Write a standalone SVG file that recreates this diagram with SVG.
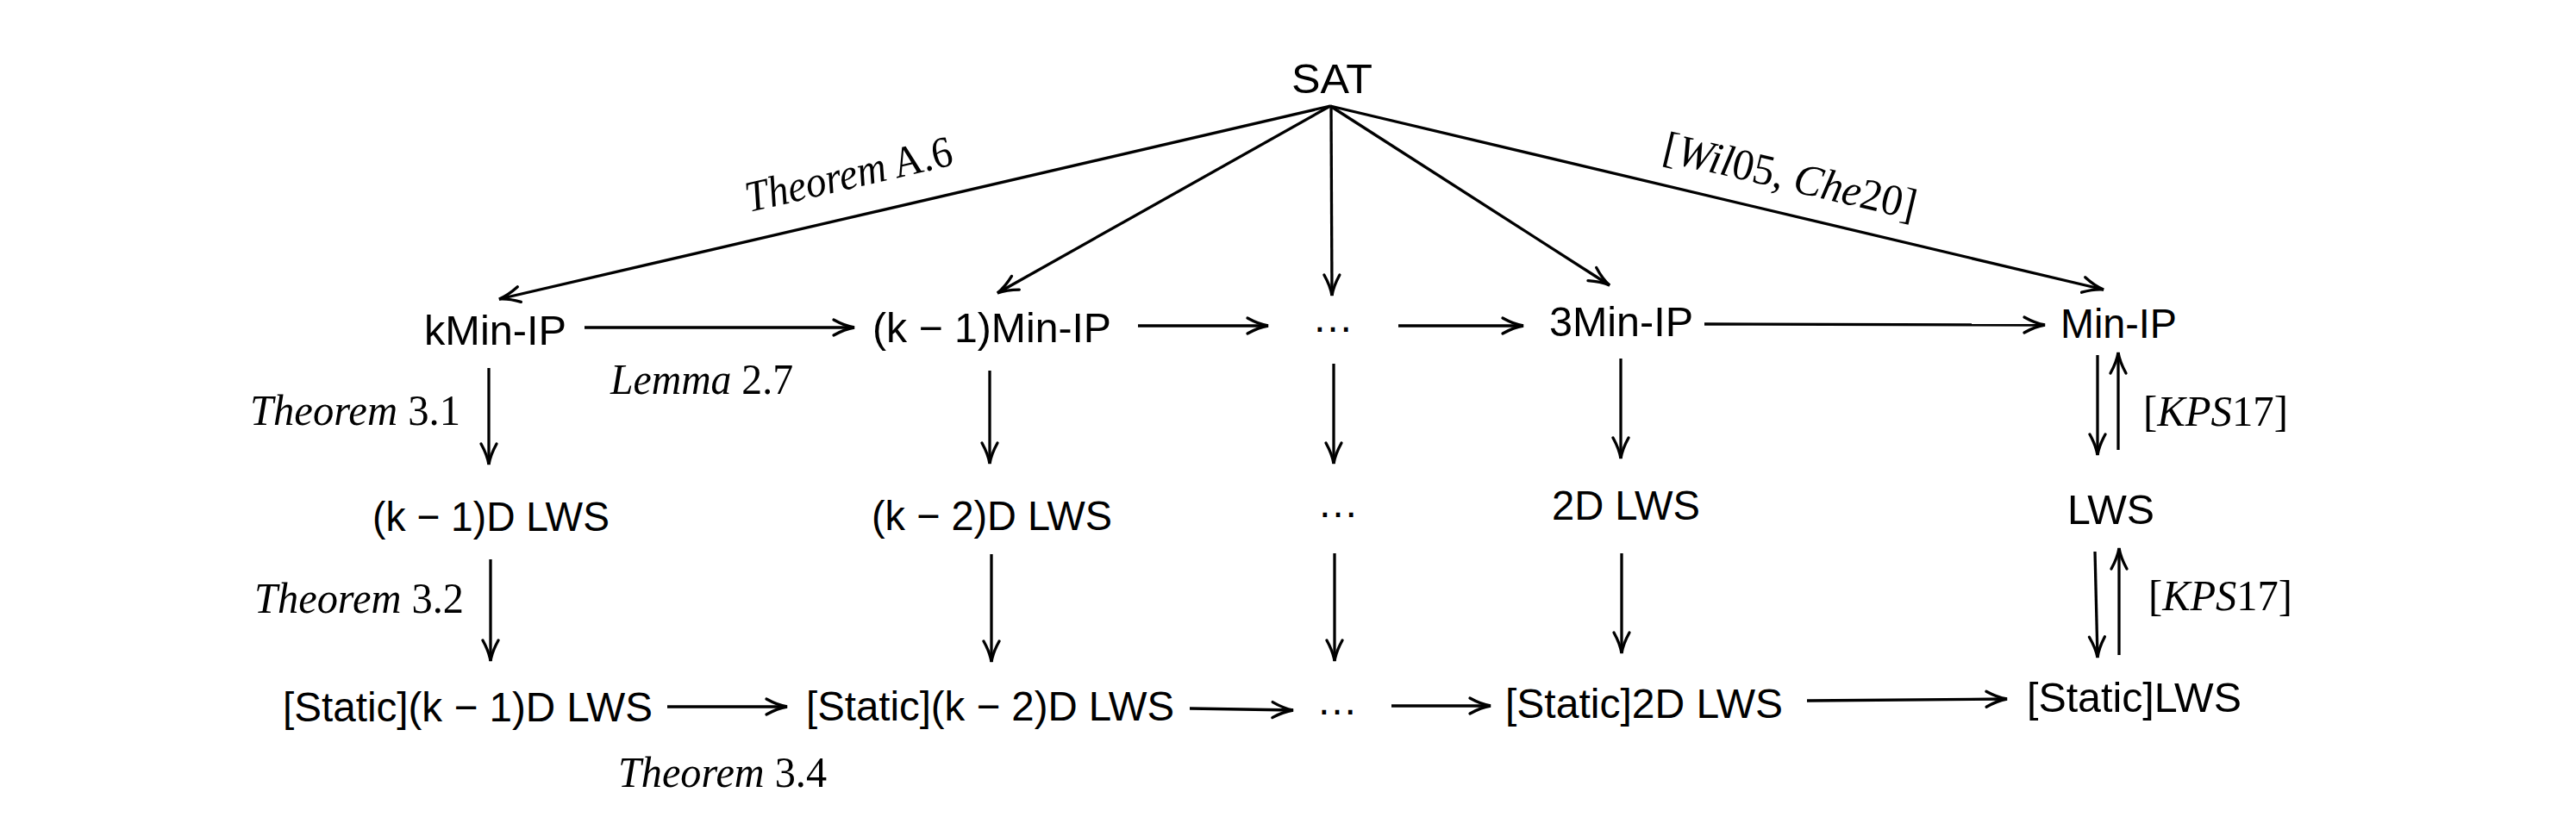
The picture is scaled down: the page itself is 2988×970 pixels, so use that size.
<svg xmlns="http://www.w3.org/2000/svg" width="2988" height="970" viewBox="0 0 2988 970">
<style>
.n{font-family:"Liberation Sans",Arial,sans-serif;font-size:48px;fill:#000}
.l{font-family:"Liberation Serif","Times New Roman",serif;font-size:51px;fill:#000}
.it{font-style:italic}
.e{stroke:#000;stroke-width:3.3;fill:none;marker-end:url(#ah)}
</style>
<defs>
<marker id="ah" markerUnits="userSpaceOnUse" markerWidth="40" markerHeight="30" viewBox="-30 -15 34 30" refX="0" refY="0" orient="auto" overflow="visible">
<path d="M-24,-9 C-15,-4 -6,-1 0,0 C-6,1 -15,4 -24,9" fill="none" stroke="#000" stroke-width="3.3" stroke-linecap="round"/>
</marker>
</defs>
<rect width="2988" height="970" fill="#fff"/>
<g id="connectors">
<path class="e" d="M1543,123 L579,347"/>
<path class="e" d="M1543,123 L1157,340"/>
<path class="e" d="M1544,123 L1545,343"/>
<path class="e" d="M1543,123 L1867,331"/>
<path class="e" d="M1543,123 L2440,336"/>
<path class="e" d="M678,380 L991,380"/>
<path class="e" d="M1320,378 L1471,378"/>
<path class="e" d="M1622,378 L1767,378"/>
<path class="e" d="M1977,376 L2372,377"/>
<path class="e" d="M567,427 L567,539"/>
<path class="e" d="M1148,430 L1148,538"/>
<path class="e" d="M1547,422 L1547,538"/>
<path class="e" d="M1880,416 L1880,532"/>
<path class="e" d="M2433,412 L2433,528"/>
<path class="e" d="M2457,522 L2457,409"/>
<path class="e" d="M569,649 L569,767"/>
<path class="e" d="M1150,643 L1150,768"/>
<path class="e" d="M1548,642 L1548,767"/>
<path class="e" d="M1881,642 L1881,758"/>
<path class="e" d="M2430,640 L2433,763"/>
<path class="e" d="M2458,760 L2458,636"/>
<path class="e" d="M774,820 L913,820"/>
<path class="e" d="M1380,822 L1500,824"/>
<path class="e" d="M1614,819 L1729,819"/>
<path class="e" d="M2096,813 L2328,811"/>
</g>
<g id="labels">
<text class="l" transform="translate(985,205) rotate(-13.08)" y="14" text-anchor="middle" textLength="245" lengthAdjust="spacingAndGlyphs"><tspan class="it">Theorem</tspan> A.6</text>
<text class="l" transform="translate(2076,207) rotate(13.3)" y="14" text-anchor="middle" textLength="300" lengthAdjust="spacingAndGlyphs">[<tspan class="it">Wil</tspan>05, <tspan class="it">Che</tspan>20]</text>
<text class="l" x="708" y="457" textLength="212" lengthAdjust="spacingAndGlyphs"><tspan class="it">Lemma</tspan> 2.7</text>
<text class="l" x="290" y="493" textLength="244" lengthAdjust="spacingAndGlyphs"><tspan class="it">Theorem</tspan> 3.1</text>
<text class="l" x="295" y="711" textLength="243" lengthAdjust="spacingAndGlyphs"><tspan class="it">Theorem</tspan> 3.2</text>
<text class="l" x="717" y="913" textLength="242" lengthAdjust="spacingAndGlyphs"><tspan class="it">Theorem</tspan> 3.4</text>
<text class="l" x="2486" y="494" textLength="168" lengthAdjust="spacingAndGlyphs">[<tspan class="it">KPS</tspan>17]</text>
<text class="l" x="2492" y="708" textLength="167" lengthAdjust="spacingAndGlyphs">[<tspan class="it">KPS</tspan>17]</text>
</g>
<g id="sat"><text class="n" x="1498" y="108" textLength="94" lengthAdjust="spacingAndGlyphs">SAT</text></g>
<g id="kminip"><text class="n" x="492" y="400" textLength="165" lengthAdjust="spacingAndGlyphs">kMin-IP</text></g>
<g id="k1minip"><text class="n" x="1012" y="397" textLength="277" lengthAdjust="spacingAndGlyphs">(k − 1)Min-IP</text></g>
<g id="dots1"><text class="n" x="1546" y="385" text-anchor="middle">…</text></g>
<g id="3minip"><text class="n" x="1797" y="390" textLength="167" lengthAdjust="spacingAndGlyphs">3Min-IP</text></g>
<g id="minip"><text class="n" x="2390" y="392" textLength="135" lengthAdjust="spacingAndGlyphs">Min-IP</text></g>
<g id="k1dlws"><text class="n" x="432" y="616" textLength="275" lengthAdjust="spacingAndGlyphs">(k − 1)D LWS</text></g>
<g id="k2dlws"><text class="n" x="1011" y="615" textLength="279" lengthAdjust="spacingAndGlyphs">(k − 2)D LWS</text></g>
<g id="dots2"><text class="n" x="1552" y="600" text-anchor="middle">…</text></g>
<g id="2dlws"><text class="n" x="1800" y="603" textLength="172" lengthAdjust="spacingAndGlyphs">2D LWS</text></g>
<g id="lws"><text class="n" x="2398" y="608" textLength="101" lengthAdjust="spacingAndGlyphs">LWS</text></g>
<g id="sk1dlws"><text class="n" x="328" y="837" textLength="429" lengthAdjust="spacingAndGlyphs">[Static](k − 1)D LWS</text></g>
<g id="sk2dlws"><text class="n" x="935" y="836" textLength="427" lengthAdjust="spacingAndGlyphs">[Static](k − 2)D LWS</text></g>
<g id="dots3"><text class="n" x="1551" y="829" text-anchor="middle">…</text></g>
<g id="s2dlws"><text class="n" x="1746" y="833" textLength="322" lengthAdjust="spacingAndGlyphs">[Static]2D LWS</text></g>
<g id="slws"><text class="n" x="2351" y="826" textLength="249" lengthAdjust="spacingAndGlyphs">[Static]LWS</text></g>
</svg>
